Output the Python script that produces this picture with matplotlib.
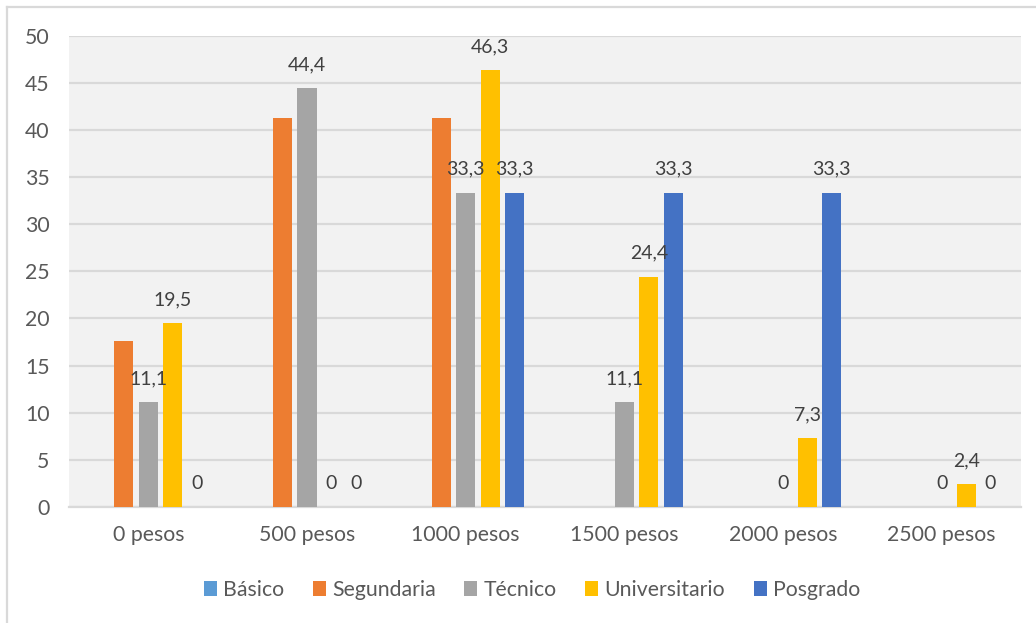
import numpy as np
import matplotlib
matplotlib.use('Agg')
from matplotlib import pyplot as plt
from matplotlib.patches import Patch
from matplotlib.lines import Line2D

categorias = ['0 pesos', '500 pesos', '1000 pesos', '1500 pesos', '2000 pesos', '2500 pesos']
series = ['Básico', 'Segundaria', 'Técnico', 'Universitario', 'Posgrado']
nan = np.nan
basico = [nan, nan, nan, nan, nan, nan]
segundaria = [17.6, 41.2, 41.2, nan, nan, nan]
tecnico = [11.1, 44.4, 33.3, 11.1, 0, 0]
universitario = [19.5, 0, 46.3, 24.4, 7.3, 2.4]
posgrado = [0, 0, 33.3, 33.3, 33.3, 0]

valores = [basico, segundaria, tecnico, universitario, posgrado]
colores = ['#5B9BD5', '#ED7D31', '#A5A5A5', '#FFC000', '#4472C4']
con_etiqueta = [False, False, True, True, True]

plt.rcParams['font.family'] = ['Lato', 'DejaVu Sans']
gris_txt = '#595959'

fig = plt.figure(figsize=(10.36, 6.23), dpi=100)
ax = fig.add_axes([69/1036, 1-507/623, (1021-69)/1036, (507-35.5)/623])
ax.set_facecolor('#F2F2F2')

x = np.arange(len(categorias))
paso = 0.154
ancho = 0.12
for i, (vals, col, lab) in enumerate(zip(valores, colores, con_etiqueta)):
    pos = x + (i - 2) * paso
    v = np.array(vals, dtype=float)
    ax.bar(pos, np.nan_to_num(v), width=ancho, color=col, zorder=3)
    if lab:
        for px, py in zip(pos, v):
            if np.isnan(py):
                continue
            txt = '0' if py == 0 else ('%.1f' % py).replace('.', ',')
            ax.annotate(txt, (px, py), xytext=(0, 17), textcoords='offset points',
                        ha='center', va='center', fontsize=14, color='#404040', zorder=4)

ax.set_xlim(-0.5, len(categorias) - 0.5)
ax.set_ylim(0, 50)
ax.set_yticks(range(0, 51, 5))
ax.set_xticks(x)
ax.set_xticklabels(categorias)
ax.grid(axis='y', color='#D9D9D9', linewidth=1.6, zorder=0)
ax.set_axisbelow(True)
for s in ['top', 'right', 'left']:
    ax.spines[s].set_visible(False)
ax.spines['bottom'].set_color('#D9D9D9')
ax.spines['bottom'].set_linewidth(1.6)
ax.tick_params(axis='both', length=0, labelsize=15.3, labelcolor=gris_txt)
ax.tick_params(axis='y', pad=14)
ax.tick_params(axis='x', pad=13)

handles = [Patch(facecolor=c, edgecolor='none') for c in colores]
fig.legend(handles, series, loc='center', bbox_to_anchor=(532/1036, 1-590/623), ncol=5,
           frameon=False, fontsize=15.3, labelcolor=gris_txt, handlelength=0.6,
           handleheight=0.65, handletextpad=0.3, columnspacing=1.35)

# borde del grafico
fig.add_artist(Line2D([7/1036, 7/1036], [-0.1, 1-7/623], color='#D9D9D9', linewidth=1.6))
fig.add_artist(Line2D([7/1036, 1.1], [1-7/623, 1-7/623], color='#D9D9D9', linewidth=1.6))

plt.savefig('out.png', dpi=100)
